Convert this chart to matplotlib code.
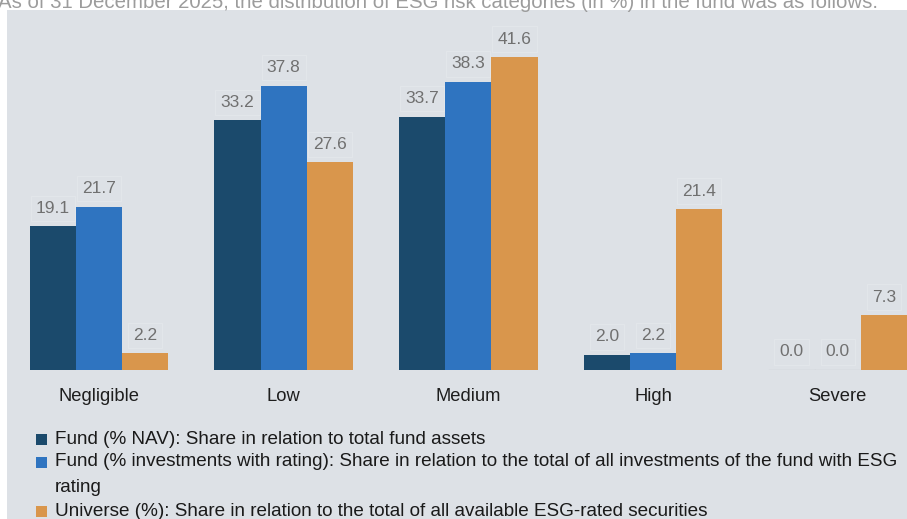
import matplotlib
matplotlib.use("Agg")
import matplotlib.pyplot as plt
import numpy as np
from matplotlib.patches import Rectangle

plt.rcParams['font.family'] = ['Liberation Sans', 'DejaVu Sans']

categories = ["Negligible", "Low", "Medium", "High", "Severe"]
fund_nav = [19.1, 33.2, 33.7, 2.0, 0.0]
fund_rated = [21.7, 37.8, 38.3, 2.2, 0.0]
universe = [2.2, 27.6, 41.6, 21.4, 7.3]
series_labels = [
    "Fund (% NAV): Share in relation to total fund assets",
    "Fund (% investments with rating): Share in relation to the total of all investments of the fund with ESG",
    "Universe (%): Share in relation to the total of all available ESG-rated securities",
]
wrap_line = "rating"
title = "As of 31 December 2025, the distribution of ESG risk categories (in %) in the fund was as follows:"

colors = ["#1b4a6c", "#2f74c0", "#d9964c"]
panel = "#dde1e6"

W, H = 907, 519
fig = plt.figure(figsize=(W / 100, H / 100), dpi=100)
fig.patch.set_facecolor("white")
fig.patches.append(Rectangle((7 / W, 0), (W - 7) / W, (H - 10) / H,
                             transform=fig.transFigure, facecolor=panel,
                             edgecolor="none", zorder=-5))

# title (cut off at top, as in the reference)
fig.text(-2 / W, (H - 8) / H, title, ha="left", va="baseline",
         fontsize=14.7, color="#9c9c9c")

base_px, top_px = 370, 14
unit = 7.52
spacing = 184.7
x0 = 99
ax = fig.add_axes([0, (H - base_px) / H, 1, (base_px - top_px) / H])
ax.set_facecolor("none")
ax.set_zorder(2)
ax.set_xlim(-x0 / spacing, (W - x0) / spacing)
ax.set_ylim(0, (base_px - top_px) / unit)

x = np.arange(len(categories))
bw = 0.25
for k, (vals, c) in enumerate(zip([fund_nav, fund_rated, universe], colors)):
    xs = x + (k - 1) * bw
    ax.bar(xs, vals, width=bw, color=c, edgecolor="none", zorder=2)
    for xi, v in zip(xs, vals):
        ax.annotate(f"{v:.1f}", (xi, v), xytext=(0, 13), textcoords="offset points",
                    ha="center", va="center", fontsize=12.5, color="#707070",
                    bbox=dict(boxstyle="square,pad=0.3", facecolor="none",
                              edgecolor="#e4e7eb", linewidth=0.6),
                    zorder=3)
        if v == 0:
            ax.plot([xi - bw / 2, xi + bw / 2], [0, 0], color="#cdd1d6", lw=1, zorder=1)

ax.set_xticks(x)
ax.set_xticklabels(categories, fontsize=13.2, color="#1e1e1e")
ax.tick_params(axis="x", length=0, pad=13)
ax.set_yticks([])
for s in ax.spines.values():
    s.set_visible(False)

# legend (manual)
rows_y = [439, 462, 511]
for lab, c, yy in zip(series_labels, colors, rows_y):
    fig.patches.append(Rectangle((36 / W, (H - yy - 5.5) / H), 11 / W, 11 / H,
                                 transform=fig.transFigure, facecolor=c,
                                 edgecolor="none", zorder=3))
    fig.text(55 / W, (H - yy) / H, lab, ha="left", va="center",
             fontsize=13.6, color="#1a1a1a")
fig.text(55 / W, (H - 487) / H, wrap_line, ha="left", va="center",
         fontsize=13.6, color="#1a1a1a")

fig.savefig("out.png", dpi=100, facecolor=fig.get_facecolor())
